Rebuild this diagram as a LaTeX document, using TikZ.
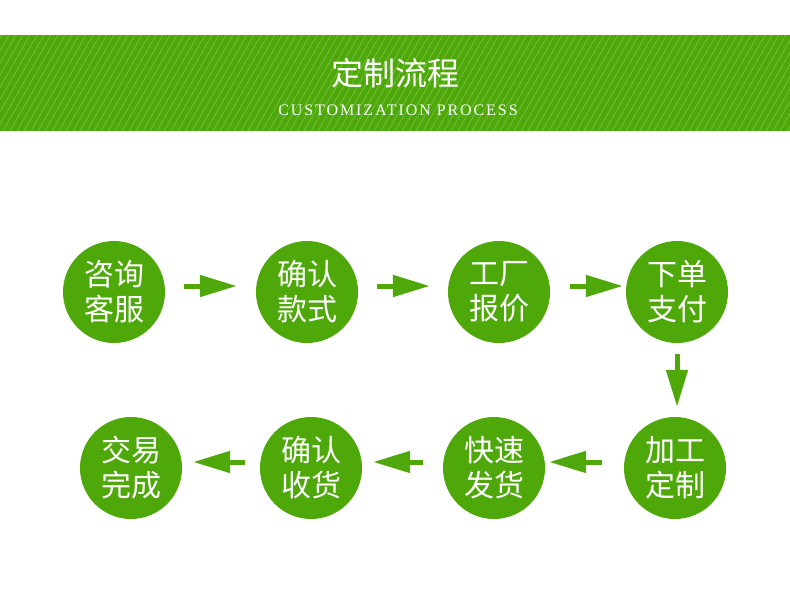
\documentclass[tikz,border=0pt]{standalone}
\usepackage{fontspec}
\newfontfamily\cjk{Noto Sans CJK SC}
\newfontfamily\subfont[LetterSpace=12]{Liberation Serif}
\usetikzlibrary{positioning,arrows.meta}
\definecolor{leaf}{HTML}{4EA80A}
\definecolor{leaflight}{HTML}{72BD3A}

\begin{document}
\begin{tikzpicture}[x=1pt,y=-1pt]
    \tikzstyle{stage}=[circle,
                       fill=leaf,
                       minimum size=102pt,
                       inner sep=0pt,
                       align=center,
                       text=white,
                       font=\cjk\fontsize{30}{35}\selectfont]
    \tikzset{flow/.style={-{Triangle[length=37pt,width=21pt]}, line width=5pt, draw=leaf}}
    \tikzset{stripe/.style={draw=leaflight, line width=0.8pt}}

    \useasboundingbox[fill=white] (0,0) rectangle (790,589);

    % banner
    \fill[leaf] (0,35) rectangle (790,131);
    \begin{scope}
        \clip (0,35) rectangle (790,131);
        \foreach \i in {-60,-53,...,800}
            \draw[stripe] (\i,131) -- ++(55,-96);
    \end{scope}
    \node[text=white, font=\cjk\fontsize{32}{36}\selectfont] (title) at (395,73) {定制流程};
    \node[text=white, font=\subfont\fontsize{16}{19}\selectfont] (sub) at (398,110) {CUSTOMIZATION PROCESS};

    \node[stage] (a) at (114,292) {咨询\\客服};
    \node[stage] (b) at (307,292) {确认\\款式};
    \node[stage] (c) at (499,292) {工厂\\报价};
    \node[stage] (d) at (677,292) {下单\\支付};
    \node[stage] (e) at (675,468) {加工\\定制};
    \node[stage] (f) at (494,468) {快速\\发货};
    \node[stage] (g) at (311,468) {确认\\收货};
    \node[stage] (h) at (131,468) {交易\\完成};

    \draw[flow, shorten <=19pt, shorten >=19pt] ([yshift=6pt]a.east) -- ([yshift=6pt]b.west);
    \draw[flow, shorten <=19pt, shorten >=18pt] ([yshift=6pt]b.east) -- ([yshift=6pt]c.west);
    \draw[flow, shorten <=20pt, shorten >=3pt]  ([yshift=6pt]c.east) -- ([yshift=6pt]d.west);
    \draw[flow, shorten <=11pt, shorten >=10pt] (d.south) -- (d.south |- e.north);
    \draw[flow, shorten <=22pt, shorten >=4pt]  ([yshift=6pt]e.west) -- ([yshift=6pt]f.east);
    \draw[flow, shorten <=20pt, shorten >=11pt] ([yshift=6pt]f.west) -- ([yshift=6pt]g.east);
    \draw[flow, shorten <=15pt, shorten >=11pt] ([yshift=6pt]g.west) -- ([yshift=6pt]h.east);
\end{tikzpicture}
\end{document}
